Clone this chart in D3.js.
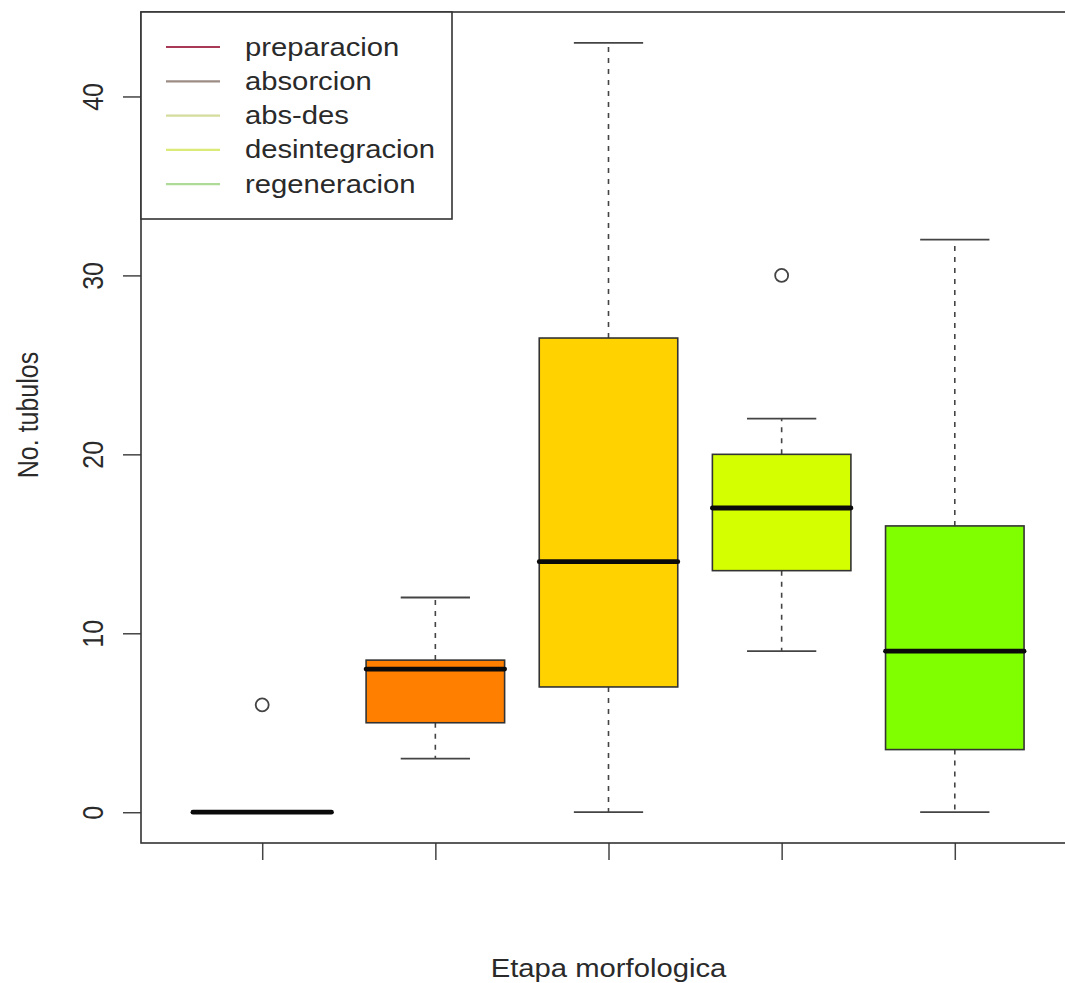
<!DOCTYPE html>
<html>
<head>
<meta charset="utf-8">
<script src="https://cdn.jsdelivr.net/npm/d3@7"></script>
<style>
  body { margin: 0; background: #fff; }
  text { font-family: "Liberation Sans", Arial, sans-serif; fill: #2a2a2a; }
</style>
</head>
<body>
<div id="boxplot"></div>
<script>
// ---------------------------------------------------- DATA ---------------------------------------------------- //
const categories   = ["preparacion", "absorcion", "abs-des", "desintegracion", "regeneracion"];
const boxColors    = ["#ff0000", "#ff7f00", "#ffd200", "#d4ff00", "#7fff00"];
const legendColors = ["#a83a58", "#9c8c84", "#d6dc9c", "#dceb78", "#aedc98"];
const whiskerLow   = [0, 3, 0, 9, 0];
const q1           = [0, 5, 7, 13.5, 3.5];
const median       = [0, 8, 14, 17, 9];
const q3           = [0, 8.5, 26.5, 20, 16];
const whiskerHigh  = [0, 12, 43, 22, 32];
const outliers     = [[6], [], [], [30], []];
const yTicks       = [0, 10, 20, 30, 40];

// --------------------------------------------------- LAYOUT --------------------------------------------------- //
const W = 1065, H = 983;
const plotLeft = 141, plotTop = 12, plotRight = 1076, plotBottom = 843;
const stretch = 1.17;   // text in the picture is a bit wider than tall

const svg = d3.select("#boxplot")
  .append("svg")
  .attr("width", W)
  .attr("height", H);

const x = d3.scaleLinear().domain([0.3, 5.7]).range([plotLeft, plotRight]);
const y = d3.scaleLinear().domain([-1.72, 44.72]).range([plotBottom, plotTop]);

const boxW = x(1.8) - x(1);     // boxwex 0.8
const capW = boxW / 2;

const groups = categories.map((c, i) => ({
  i: i, pos: i + 1, lo: whiskerLow[i], q1: q1[i], med: median[i],
  q3: q3[i], hi: whiskerHigh[i], out: outliers[i], color: boxColors[i]
}));

// --------------------------------------------------- BOXES ---------------------------------------------------- //
const g = svg.selectAll("g.box").data(groups).enter().append("g").attr("class", "box");

// whiskers (dashed)
g.filter(d => d.hi > d.q3).append("line")
  .attr("x1", d => x(d.pos)).attr("x2", d => x(d.pos))
  .attr("y1", d => y(d.q3)).attr("y2", d => y(d.hi))
  .attr("stroke", "#444").attr("stroke-width", 1.6).attr("stroke-dasharray", "5,6");
g.filter(d => d.lo < d.q1).append("line")
  .attr("x1", d => x(d.pos)).attr("x2", d => x(d.pos))
  .attr("y1", d => y(d.q1)).attr("y2", d => y(d.lo))
  .attr("stroke", "#444").attr("stroke-width", 1.6).attr("stroke-dasharray", "5,6");

// staples
g.filter(d => d.hi > d.q3).append("line")
  .attr("x1", d => x(d.pos) - capW / 2).attr("x2", d => x(d.pos) + capW / 2)
  .attr("y1", d => y(d.hi)).attr("y2", d => y(d.hi))
  .attr("stroke", "#444").attr("stroke-width", 1.8);
g.filter(d => d.lo < d.q1).append("line")
  .attr("x1", d => x(d.pos) - capW / 2).attr("x2", d => x(d.pos) + capW / 2)
  .attr("y1", d => y(d.lo)).attr("y2", d => y(d.lo))
  .attr("stroke", "#444").attr("stroke-width", 1.8);

// box
g.filter(d => d.q3 > d.q1).append("rect")
  .attr("x", d => x(d.pos) - boxW / 2)
  .attr("y", d => y(d.q3))
  .attr("width", boxW)
  .attr("height", d => y(d.q1) - y(d.q3))
  .attr("fill", d => d.color)
  .attr("stroke", "#333").attr("stroke-width", 1.6);

// median
g.append("line")
  .attr("x1", d => x(d.pos) - boxW / 2).attr("x2", d => x(d.pos) + boxW / 2)
  .attr("y1", d => y(d.med)).attr("y2", d => y(d.med))
  .attr("stroke", "#0a0a0a").attr("stroke-width", 4.8).attr("stroke-linecap", "round");

// outliers
g.selectAll("circle").data(d => d.out.map(v => ({pos: d.pos, v: v}))).enter().append("circle")
  .attr("cx", d => x(d.pos)).attr("cy", d => y(d.v)).attr("r", 6.5)
  .attr("fill", "none").attr("stroke", "#444").attr("stroke-width", 1.8);

// --------------------------------------------------- AXES ----------------------------------------------------- //
const yAxis = svg.append("g")
  .attr("transform", `translate(${plotLeft},0)`)
  .call(d3.axisLeft(y).tickValues(yTicks).tickSize(18).tickFormat(d3.format("d")));
yAxis.select(".domain").remove();
yAxis.selectAll("line").attr("stroke", "#444").attr("stroke-width", 1.5);
yAxis.selectAll("text")
  .attr("x", null).attr("dy", null)
  .attr("transform", "translate(-38,0) scale(" + stretch + ",1) rotate(-90)")
  .attr("text-anchor", "middle")
  .style("font-size", "25px").style("font-family", "Liberation Sans, Arial, sans-serif").style("fill", "#2a2a2a");

const xAxis = svg.append("g")
  .attr("transform", `translate(0,${plotBottom})`)
  .call(d3.axisBottom(x).tickValues(groups.map(d => d.pos)).tickSize(17).tickFormat(""));
xAxis.select(".domain").remove();
xAxis.selectAll("line").attr("stroke", "#444").attr("stroke-width", 1.5);

// frame
svg.append("rect")
  .attr("x", plotLeft).attr("y", plotTop)
  .attr("width", plotRight - plotLeft).attr("height", plotBottom - plotTop)
  .attr("fill", "none").attr("stroke", "#333").attr("stroke-width", 1.6);

// titles
svg.append("text")
  .attr("transform", `translate(${(x(1) + x(5)) / 2},977) scale(${stretch},1)`)
  .attr("text-anchor", "middle").style("font-size", "25px")
  .text("Etapa morfologica");
svg.append("text")
  .attr("transform", `translate(38,415) scale(${stretch},1) rotate(-90)`)
  .attr("text-anchor", "middle").style("font-size", "25px")
  .text("No. tubulos");

// --------------------------------------------------- LEGEND --------------------------------------------------- //
const legend = svg.append("g");
legend.append("rect")
  .attr("x", plotLeft).attr("y", plotTop).attr("width", 311).attr("height", 207)
  .attr("fill", "#fff").attr("stroke", "#333").attr("stroke-width", 1.6);

const rows = legend.selectAll("g.row").data(categories).enter().append("g")
  .attr("class", "row")
  .attr("transform", (d, i) => `translate(0,${47 + i * 34.3})`);
rows.append("line")
  .attr("x1", 166).attr("x2", 220).attr("y1", 0).attr("y2", 0)
  .attr("stroke", (d, i) => legendColors[i]).attr("stroke-width", 2.2);
rows.append("text")
  .attr("transform", `translate(245,8.5) scale(${stretch},1)`)
  .style("font-size", "25px")
  .text(d => d);
</script>
</body>
</html>
